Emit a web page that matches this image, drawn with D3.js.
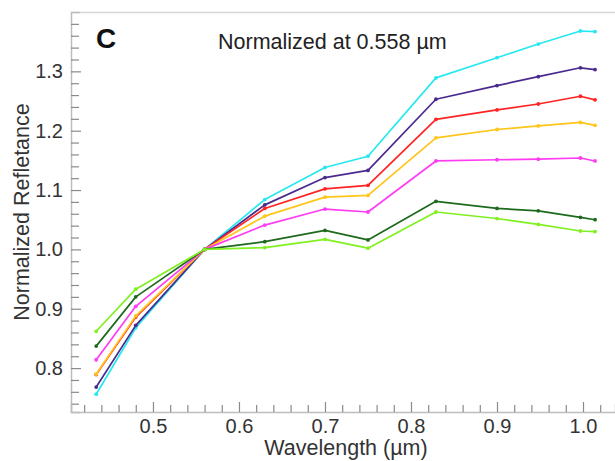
<!DOCTYPE html>
<html lang="en">
<head>
<meta charset="utf-8">
<title>Normalized Reflectance</title>
<script src="https://cdn.jsdelivr.net/npm/d3@7"></script>
<style>
  body { margin: 0; background: #fff; }
  svg text { font-family: "Liberation Sans", Arial, sans-serif; }
</style>
</head>
<body>
<div id="chart"></div>
<script>
// wavelengths (um) of the sampled bands
var wavelengths = [0.434, 0.480, 0.560, 0.630, 0.700, 0.750, 0.829, 0.900, 0.948, 0.997, 1.014];

// normalized reflectance per spectrum
var cyanVals    = [0.756, 0.868, 1.0, 1.084, 1.138, 1.157, 1.289, 1.323, 1.346, 1.368, 1.367];
var indigoVals  = [0.768, 0.872, 1.0, 1.075, 1.121, 1.133, 1.253, 1.276, 1.291, 1.306, 1.303];
var redVals     = [0.789, 0.886, 1.0, 1.069, 1.102, 1.108, 1.219, 1.235, 1.245, 1.258, 1.252];
var goldVals    = [0.790, 0.888, 1.0, 1.056, 1.088, 1.091, 1.188, 1.202, 1.208, 1.214, 1.209];
var magentaVals = [0.814, 0.904, 1.0, 1.041, 1.068, 1.063, 1.149, 1.151, 1.152, 1.154, 1.149];
var dkgreenVals = [0.837, 0.920, 1.0, 1.013, 1.032, 1.016, 1.081, 1.069, 1.065, 1.054, 1.050];
var limeVals    = [0.862, 0.933, 1.0, 1.003, 1.017, 1.002, 1.063, 1.052, 1.042, 1.031, 1.030];

var seriesColors = ["#27e8f0", "#4a2a8e", "#ff2424", "#ffc519", "#ff3cf2", "#1d6a1d", "#80f020"];
var seriesVals = [cyanVals, indigoVals, redVals, goldVals, magentaVals, dkgreenVals, limeVals];

var xTickLabels = [0.5, 0.6, 0.7, 0.8, 0.9, 1.0];
var yTickLabels = [0.8, 0.9, 1.0, 1.1, 1.2, 1.3];

var W = 615, H = 461;
var pLeft = 71, pTop = 12, pBottom = 412, pRight = 615;

var svg = d3.select("#chart").append("svg")
    .attr("width", W)
    .attr("height", H);

var x = d3.scaleLinear().domain([0.4047, 1.0372]).range([pLeft, pRight]);
var y = d3.scaleLinear().domain([0.726, 1.40]).range([pBottom, pTop]);

// frame top line
svg.append("line")
    .attr("x1", pLeft).attr("x2", pRight)
    .attr("y1", pTop + 0.5).attr("y2", pTop + 0.5)
    .style("stroke", "#d6d6d6")
    .style("stroke-width", 1.5);

var isMajor = function(v) { return Math.abs(v * 10 - Math.round(v * 10)) < 1e-6; };

// y axis (ticks pointing inside)
var yMinor = d3.range(0, 33).map(function(i) { return +(0.74 + i * 0.02).toFixed(2); });
var yAxis = svg.append("g")
    .attr("transform", "translate(" + pLeft + ",0)")
    .call(d3.axisLeft(y).tickValues(yMinor).tickSize(-9).tickPadding(8)
        .tickFormat(function(d) { return yTickLabels.indexOf(d) >= 0 ? d.toFixed(1) : ""; }));

// x axis
var xMinor = d3.range(0, 31).map(function(i) { return +(0.42 + i * 0.02).toFixed(2); });
var xAxis = svg.append("g")
    .attr("transform", "translate(0," + pBottom + ")")
    .call(d3.axisBottom(x).tickValues(xMinor).tickSize(-8).tickPadding(8)
        .tickFormat(function(d) { return xTickLabels.indexOf(d) >= 0 ? d.toFixed(1) : ""; }));

[yAxis, xAxis].forEach(function(ax) {
    ax.select(".domain").style("stroke", "#bdbdbd").style("stroke-width", 1.5);
    ax.selectAll(".tick line").style("stroke", "#8a8a8a").style("stroke-width", 1.2);
    ax.selectAll(".tick text")
        .style("font-size", "20px")
        .style("fill", "#333")
        .style("font-family", "\"Liberation Sans\", Arial, sans-serif");
});
xAxis.selectAll(".tick line").attr("y2", function(d) { return isMajor(d) ? -10 : -7; });
xAxis.selectAll(".tick text").attr("y", 7);
yAxis.selectAll(".tick line").attr("x2", function(d) { return isMajor(d) ? 10 : 8; });

// lines
var line = d3.line()
    .x(function(d, i) { return x(wavelengths[i]); })
    .y(function(d) { return y(d); });

var plot = svg.append("g");
seriesVals.forEach(function(vals, k) {
    plot.append("path")
        .datum(vals)
        .attr("d", line)
        .style("fill", "none")
        .style("stroke", seriesColors[k])
        .style("stroke-width", 1.7)
        .style("stroke-linejoin", "round");
    plot.selectAll(".dot" + k)
        .data(vals)
        .enter().append("circle")
        .attr("cx", function(d, i) { return x(wavelengths[i]); })
        .attr("cy", function(d) { return y(d); })
        .attr("r", 1.9)
        .style("fill", seriesColors[k]);
});

// panel letter and note
svg.append("text")
    .attr("x", 96).attr("y", 48)
    .style("font-size", "28px")
    .style("font-weight", "bold")
    .style("fill", "#111")
    .text("C");

svg.append("text")
    .attr("x", 218).attr("y", 49)
    .style("font-size", "21.5px")
    .style("fill", "#222")
    .text("Normalized at 0.558 \u00b5m");

// axis titles
svg.append("text")
    .attr("x", 346).attr("y", 455)
    .attr("text-anchor", "middle")
    .style("font-size", "21.5px")
    .style("fill", "#333")
    .text("Wavelength (\u00b5m)");

svg.append("text")
    .attr("transform", "translate(29,212) rotate(-90)")
    .attr("text-anchor", "middle")
    .style("font-size", "21.5px")
    .style("fill", "#333")
    .text("Normalized Refletance");
</script>
</body>
</html>
